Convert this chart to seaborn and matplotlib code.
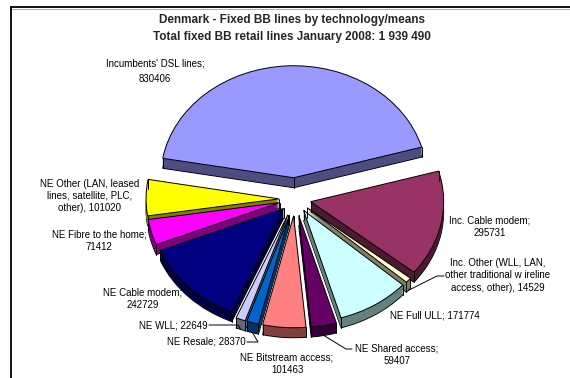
import numpy as np
import matplotlib
matplotlib.use("Agg")
import matplotlib.pyplot as plt
import seaborn as sns
from matplotlib.colors import to_rgb
from matplotlib.lines import Line2D

# ---------------- data ----------------
categories = [
    "Incumbents' DSL lines",
    "Inc. Cable modem",
    "Inc. Other (WLL, LAN,\nother traditional w ireline\naccess, other)",
    "NE Full ULL",
    "NE Shared access",
    "NE Bitstream access",
    "NE Resale",
    "NE WLL",
    "NE Cable modem",
    "NE Fibre to the home",
    "NE Other (LAN, leased\nlines, satellite, PLC,\nother)",
]
values = [830406, 295731, 14529, 171774, 59407, 101463, 28370, 22649, 242729, 71412, 101020]
separators = [";\n", ";\n", ", ", "; ", ";\n", ";\n", "; ", "; ", ";\n", ";\n", ", "]
title_lines = ["Denmark - Fixed BB lines by technology/means",
               "Total fixed BB retail lines January 2008: 1 939 490"]

# ---------------- style ----------------
colors = ["#9999FF", "#993366", "#FFFFCC", "#CCFFFF", "#660066", "#FF8080",
          "#0066CC", "#CCCCFF", "#000080", "#FF00FF", "#FFFF00"]
side_colors = [tuple(c * 0.5 for c in to_rgb(col)) for col in colors]
explode = [0.19, 0.12, 0.12, 0.12, 0.15, 0.15, 0.15, 0.15, 0.12, 0.12, 0.12]

sns.set_theme(style="white")
plt.rcParams["font.family"] = ["Liberation Sans", "DejaVu Sans"]

W, H = 570, 378
cx, cy, Rx, Ry = 295, 199, 133, 112
depth = 10 / Ry

fig = plt.figure(figsize=(W / 100, H / 100), dpi=100)
fig.patch.set_facecolor("white")
ax = fig.add_axes([0, 0, 1, 1])

def px(x, y):
    return ((x - cx) / Rx, (cy - y) / Ry)

# side (extrusion) layers
nL = 14
for k in range(nL, 0, -1):
    off = depth * k / nL
    ax.pie(values, colors=side_colors, explode=explode, startangle=170,
           counterclock=False, center=(0, -off),
           wedgeprops=dict(linewidth=0.7 if k == nL else 0, edgecolor="black"))

# top faces (to get geometry first, then vertical edges, then redraw order)
wedges, _ = ax.pie(values, colors=colors, explode=explode, startangle=170,
                   counterclock=False, center=(0, 0),
                   wedgeprops=dict(linewidth=0.7, edgecolor="black"))
for w in wedges:
    w.remove()

# vertical corner edges
for w in wedges:
    c = np.array(w.center)
    r = w.r
    pts = [c]
    for t in (w.theta1, w.theta2):
        pts.append(c + r * np.array([np.cos(np.radians(t)), np.sin(np.radians(t))]))
    for p in pts:
        ax.plot([p[0], p[0]], [p[1], p[1] - depth], color="black", lw=0.7)

for w in wedges:
    ax.add_patch(w)

ax.set_aspect("auto")
ax.set_xlim((0 - cx) / Rx, (W - cx) / Rx)
ax.set_ylim((cy - H) / Ry, cy / Ry)
ax.axis("off")

# ---------------- labels ----------------
label_pos = [(155, 71.5, "center"), (490, 227, "center"), (498, 275.5, "center"),
             (435, 316, "center"), (397, 355, "center"), (287, 364, "center"),
             (246, 342, "right"), (208, 325, "right"), (143, 299, "center"),
             (99, 241, "center"), (90, 196, "center")]
for i, (cat, val, sep) in enumerate(zip(categories, values, separators)):
    x, y, ha = label_pos[i]
    txt = f"{cat}{sep}{val}"
    fig.text(x / W, 1 - y / H, txt, ha=ha, va="center", fontsize=7,
             linespacing=1.7 if i == 0 else 1.3, multialignment="center",
             color="black")

def slice_point(i):
    w = wedges[i]
    t = np.radians((w.theta1 + w.theta2) / 2)
    c = np.array(w.center)
    return c + w.r * np.array([np.cos(t), np.sin(t)]) - np.array([0, depth])

leaders = {
    7: [(209, 325), (238, 325)],
    6: [(247, 342), (258, 342)],
    4: [(352, 349), (346, 349)],
    2: [(444, 276), (437, 276)],
}
for i, pts in leaders.items():
    p = [px(*q) for q in pts] + [tuple(slice_point(i))]
    ax.plot([q[0] for q in p], [q[1] for q in p], color="black", lw=0.7)

# ---------------- title ----------------
fig.text(292 / W, 1 - 20 / H, title_lines[0], ha="center", va="center",
         fontsize=8.5, fontweight="bold")
fig.text(292 / W, 1 - 37 / H, title_lines[1], ha="center", va="center",
         fontsize=8.5, fontweight="bold")

# ---------------- frame ----------------
fig.add_artist(Line2D([11 / W, 1], [1 - 7 / H, 1 - 7 / H], color="black", lw=1.3))
fig.add_artist(Line2D([11 / W, 1], [1 - 8.7 / H, 1 - 8.7 / H], color="#A0A0A0", lw=0.6))
fig.add_artist(Line2D([11 / W, 11 / W], [1 - 7 / H, 0], color="black", lw=1.3))

fig.savefig("out.png", dpi=100, facecolor="white")
